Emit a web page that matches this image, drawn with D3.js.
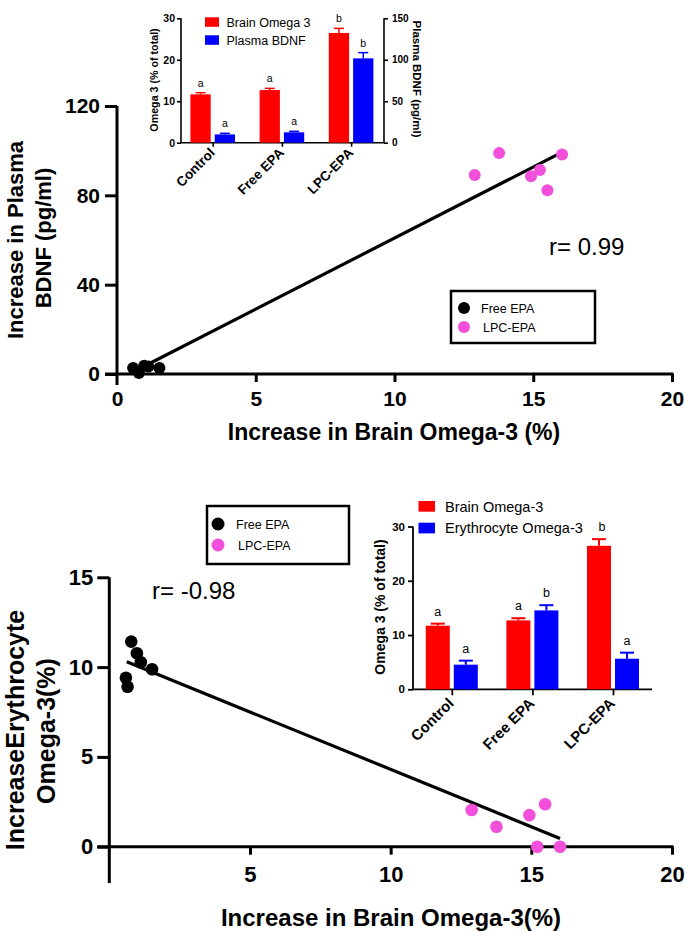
<!DOCTYPE html>
<html><head><meta charset="utf-8">
<script src="https://cdn.jsdelivr.net/npm/d3@7"></script>
<style>
html,body{margin:0;padding:0;background:#fff;}
svg{display:block;font-family:"Liberation Sans",Arial,Helvetica,sans-serif;}
</style></head>
<body>
<svg id="c" width="685" height="932"></svg>
<script>
// ---------- DATA ----------
// Top scatter: Brain omega-3 increase vs plasma BDNF increase
const topFreeX = [0.58, 0.79, 0.98, 1.13, 1.53];
const topFreeY = [2.7, 0.5, 3.7, 3.4, 2.7];
const topLpcX = [12.89, 13.77, 14.92, 15.24, 15.51, 16.04];
const topLpcY = [89.1, 98.9, 88.5, 91.3, 82.3, 98.3];
const topFitX = [1.19, 15.85];
const topFitY = [4.8, 98.1];
const topXTicks = [0, 5, 10, 15, 20];
const topYTicks = [0, 40, 80, 120];
const topR = "r= 0.99";

// Bottom scatter: Brain omega-3 increase vs erythrocyte omega-3 increase
const botFreeX = [0.78, 0.98, 1.12, 1.52, 0.59, 0.65];
const botFreeY = [11.42, 10.77, 10.27, 9.88, 9.41, 8.91];
const botLpcX = [12.88, 13.76, 14.93, 15.49, 15.21, 16.02];
const botLpcY = [2.04, 1.11, 1.76, 2.36, 0.0, 0.0];
const botFitX = [0.62, 16.02];
const botFitY = [10.30, 0.46];
const botXTicks = [5, 10, 15, 20];
const botYTicks = [0, 5, 10, 15];
const botR = "r= -0.98";

// Insets
const groups = ["Control", "Free EPA", "LPC-EPA"];
const in1Brain = [11.66, 12.7, 26.47];
const in1BrainErr = [0.4, 0.4, 1.1];
const in1BrainLetters = ["a", "a", "b"];
const in1Bdnf = [10.0, 12.5, 101.7];
const in1BdnfErr = [1.3, 1.2, 6.9];
const in1BdnfLetters = ["a", "a", "b"];
const in1LeftTicks = [0, 10, 20, 30];
const in1RightTicks = [0, 50, 100, 150];

const in2Brain = [11.72, 12.7, 26.44];
const in2BrainErr = [0.38, 0.4, 1.23];
const in2BrainLetters = ["a", "a", "b"];
const in2Ery = [4.54, 14.54, 5.64];
const in2EryErr = [0.74, 0.96, 1.11];
const in2EryLetters = ["a", "b", "a"];
const in2Ticks = [0, 10, 20, 30];

const seriesNames = ["Free EPA", "LPC-EPA"];

// ---------- STYLE ----------
const RED = "#ff0000", BLUE = "#0000ff", PINK = "#f250da", BLACK = "#000";
const svg = d3.select("#c");

function axisStyle(g, fs) {
  g.selectAll("path.domain").remove();
  g.selectAll("line").attr("stroke", "#000").attr("stroke-width", 3);
  g.selectAll("text").attr("font-size", fs).attr("font-weight", "bold").attr("fill", "#000")
    .attr("font-family", "Liberation Sans, Arial, sans-serif");
}

// ---------- TOP SCATTER ----------
{
  const x = d3.scaleLinear().domain([0, 20]).range([117, 672]);
  const y = d3.scaleLinear().domain([0, 120]).range([374, 106]);
  const g = svg.append("g");
  g.append("line").attr("x1", x(0)).attr("x2", x(0)).attr("y1", y(120)).attr("y2", y(0) + 11)
    .attr("stroke", "#000").attr("stroke-width", 3);
  g.append("line").attr("x1", x(0) - 12).attr("x2", x(20) + 1.5).attr("y1", y(0)).attr("y2", y(0))
    .attr("stroke", "#000").attr("stroke-width", 3);
  const ya = g.append("g").attr("transform", `translate(${x(0)},0)`)
    .call(d3.axisLeft(y).tickValues(topYTicks).tickSize(12).tickPadding(5).tickFormat(d3.format("d")));
  axisStyle(ya, 21);
  const xa = g.append("g").attr("transform", `translate(0,${y(0)})`)
    .call(d3.axisBottom(x).tickValues(topXTicks).tickSize(8).tickPadding(9).tickFormat(d3.format("d")));
  axisStyle(xa, 21);
  xa.selectAll(".tick").filter(d => d === 0).select("line").remove();

  g.append("line").attr("x1", x(topFitX[0])).attr("y1", y(topFitY[0]))
    .attr("x2", x(topFitX[1])).attr("y2", y(topFitY[1]))
    .attr("stroke", "#000").attr("stroke-width", 3.2);
  g.selectAll(".pf").data(d3.zip(topFreeX, topFreeY)).join("circle")
    .attr("cx", d => x(d[0])).attr("cy", d => y(d[1])).attr("r", 6).attr("fill", BLACK);
  g.selectAll(".pl").data(d3.zip(topLpcX, topLpcY)).join("circle")
    .attr("cx", d => x(d[0])).attr("cy", d => y(d[1])).attr("r", 6).attr("fill", PINK);

  g.append("text").attr("x", 549).attr("y", 255).attr("font-size", 24).text(topR);

  g.append("text").attr("transform", "translate(23,240) rotate(-90)").attr("text-anchor", "middle")
    .attr("font-size", 22).attr("font-weight", "bold").text("Increase in Plasma");
  g.append("text").attr("transform", "translate(51,238) rotate(-90)").attr("text-anchor", "middle")
    .attr("font-size", 22).attr("font-weight", "bold").text("BDNF (pg/ml)");
  g.append("text").attr("x", 394).attr("y", 440).attr("text-anchor", "middle")
    .attr("font-size", 23).attr("font-weight", "bold").text("Increase in Brain Omega-3 (%)");

  g.append("rect").attr("x", 451).attr("y", 291).attr("width", 144).attr("height", 52)
    .attr("fill", "none").attr("stroke", "#000").attr("stroke-width", 2.5);
  const leg = g.selectAll(".lg").data(seriesNames).join("g")
    .attr("transform", (d, i) => `translate(464,${308 + i * 19})`);
  leg.append("circle").attr("r", 6).attr("fill", (d, i) => i ? PINK : BLACK);
  leg.append("text").attr("x", (d, i) => i ? 19 : 17).attr("y", 4.5).attr("font-size", 12.5).text(d => d);
}

// ---------- TOP INSET ----------
{
  const x0 = d3.scalePoint().domain(groups).range([178.1, 385.7]).padding(0.5);
  const x1 = d3.scaleBand().domain(["a", "b"]).range([-22.3, 22.3]).paddingInner(0.165);
  const yL = d3.scaleLinear().domain([0, 30]).range([142.7, 18.3]);
  const yR = d3.scaleLinear().domain([0, 150]).range([142.7, 18.3]);
  const g = svg.append("g");
  const left = 181, right = 384;
  g.append("line").attr("x1", left).attr("x2", left).attr("y1", yL(30)).attr("y2", yL(0)).attr("stroke", "#000").attr("stroke-width", 1.6);
  g.append("line").attr("x1", right).attr("x2", right).attr("y1", yR(150)).attr("y2", yR(0)).attr("stroke", "#000").attr("stroke-width", 1.6);
  g.append("line").attr("x1", left).attr("x2", right).attr("y1", yL(0)).attr("y2", yL(0)).attr("stroke", "#000").attr("stroke-width", 1.6);
  const la = g.append("g").attr("transform", `translate(${left},0)`)
    .call(d3.axisLeft(yL).tickValues(in1LeftTicks).tickSize(4).tickPadding(2));
  axisStyle(la, 10.5); la.selectAll("line").attr("stroke-width", 1.6);
  const ra = g.append("g").attr("transform", `translate(${right},0)`)
    .call(d3.axisRight(yR).tickValues(in1RightTicks).tickSize(4).tickPadding(4));
  axisStyle(ra, 10); ra.selectAll("line").attr("stroke-width", 1.6);
  const ba = g.append("g").attr("transform", `translate(0,${yL(0)})`)
    .call(d3.axisBottom(x0).tickSize(4).tickFormat(""));
  axisStyle(ba, 10); ba.selectAll("line").attr("stroke-width", 1.6);
  groups.forEach((c, i) => {
    g.append("text").attr("transform", `translate(${x0(c) + 3},${yL(0) + 11}) rotate(-45)`)
      .attr("text-anchor", "end").attr("font-size", 13.5).attr("font-weight", "bold").text(c);
  });
  const bars = [
    {k: "a", vals: in1Brain, err: in1BrainErr, lt: in1BrainLetters, y: yL, col: RED},
    {k: "b", vals: in1Bdnf, err: in1BdnfErr, lt: in1BdnfLetters, y: yR, col: BLUE}
  ];
  bars.forEach(s => {
    groups.forEach((c, i) => {
      const bx = x0(c) + x1(s.k), bw = x1.bandwidth(), cx = bx + bw / 2;
      const top = s.y(s.vals[i] + s.err[i]);
      g.append("line").attr("x1", cx).attr("x2", cx).attr("y1", s.y(s.vals[i])).attr("y2", top).attr("stroke", s.col).attr("stroke-width", 1.5);
      g.append("line").attr("x1", cx - 5).attr("x2", cx + 5).attr("y1", top).attr("y2", top).attr("stroke", s.col).attr("stroke-width", 1.5);
      g.append("rect").attr("x", bx).attr("y", s.y(s.vals[i])).attr("width", bw)
        .attr("height", s.y(0) - s.y(s.vals[i])).attr("fill", s.col);
      g.append("text").attr("x", cx).attr("y", top - 6).attr("text-anchor", "middle")
        .attr("font-size", 10.5).text(s.lt[i]);
    });
  });
  g.append("text").attr("transform", "translate(158,80) rotate(-90)").attr("text-anchor", "middle")
    .attr("font-size", 10.7).attr("font-weight", "bold").text("Omega 3 (% of total)");
  g.append("text").attr("transform", "translate(413,79) rotate(90)").attr("text-anchor", "middle")
    .attr("font-size", 11.5).attr("font-weight", "bold").text("Plasma BDNF (pg/ml)");
  const legNames = ["Brain Omega 3", "Plasma BDNF"];
  legNames.forEach((n, i) => {
    g.append("rect").attr("x", 205).attr("y", 17.3 + i * 18).attr("width", 14).attr("height", 9.5).attr("fill", i ? BLUE : RED);
    g.append("text").attr("x", 226.5).attr("y", 26.5 + i * 18).attr("font-size", 12.5).text(n);
  });
}

// ---------- BOTTOM SCATTER ----------
{
  const x = d3.scaleLinear().domain([0, 20]).range([109.3, 672]);
  const y = d3.scaleLinear().domain([0, 15]).range([846.7, 577.3]);
  const g = svg.append("g");
  g.append("line").attr("x1", x(0)).attr("x2", x(0)).attr("y1", y(15)).attr("y2", 883)
    .attr("stroke", "#000").attr("stroke-width", 3);
  g.append("line").attr("x1", x(0) - 12).attr("x2", x(20) + 1.5).attr("y1", y(0)).attr("y2", y(0))
    .attr("stroke", "#000").attr("stroke-width", 3);
  const ya = g.append("g").attr("transform", `translate(${x(0)},0)`)
    .call(d3.axisLeft(y).tickValues(botYTicks).tickSize(12).tickPadding(4).tickFormat(d3.format("d")));
  axisStyle(ya, 22);
  const xa = g.append("g").attr("transform", `translate(0,${y(0)})`)
    .call(d3.axisBottom(x).tickValues(botXTicks).tickSize(8).tickPadding(12).tickFormat(d3.format("d")));
  axisStyle(xa, 22);

  g.append("line").attr("x1", x(botFitX[0])).attr("y1", y(botFitY[0]))
    .attr("x2", x(botFitX[1])).attr("y2", y(botFitY[1]))
    .attr("stroke", "#000").attr("stroke-width", 3.2);
  g.selectAll(".pf").data(d3.zip(botFreeX, botFreeY)).join("circle")
    .attr("cx", d => x(d[0])).attr("cy", d => y(d[1])).attr("r", 6.3).attr("fill", BLACK);
  g.selectAll(".pl").data(d3.zip(botLpcX, botLpcY)).join("circle")
    .attr("cx", d => x(d[0])).attr("cy", d => y(d[1])).attr("r", 6.3).attr("fill", PINK);

  g.append("text").attr("x", 152).attr("y", 599).attr("font-size", 24).text(botR);

  g.append("text").attr("transform", "translate(24,730) rotate(-90)").attr("text-anchor", "middle")
    .attr("font-size", 25).attr("font-weight", "bold").text("IncreaseErythrocyte");
  g.append("text").attr("transform", "translate(55,731) rotate(-90)").attr("text-anchor", "middle")
    .attr("font-size", 25).attr("font-weight", "bold").text("Omega-3(%)");
  g.append("text").attr("x", 391).attr("y", 926).attr("text-anchor", "middle")
    .attr("font-size", 24).attr("font-weight", "bold").text("Increase in Brain Omega-3(%)");

  g.append("rect").attr("x", 207).attr("y", 506).attr("width", 142).attr("height", 58)
    .attr("fill", "none").attr("stroke", "#000").attr("stroke-width", 2.5);
  const leg = g.selectAll(".lg").data(seriesNames).join("g")
    .attr("transform", (d, i) => `translate(218,${524 + i * 21})`);
  leg.append("circle").attr("r", 6.5).attr("fill", (d, i) => i ? PINK : BLACK);
  leg.append("text").attr("x", (d, i) => i ? 20 : 18).attr("y", 4.5).attr("font-size", 12.5).text(d => d);
}

// ---------- BOTTOM INSET ----------
{
  const left = 413, right = 652;
  const x0 = d3.scalePoint().domain(groups).range([411.5, 653.3]).padding(0.5);
  const x1 = d3.scaleBand().domain(["a", "b"]).range([-26, 26]).paddingInner(0.143);
  const y = d3.scaleLinear().domain([0, 30]).range([689.3, 526.5]);
  const g = svg.append("g");
  g.append("line").attr("x1", left).attr("x2", left).attr("y1", y(30)).attr("y2", y(0)).attr("stroke", "#000").attr("stroke-width", 1.8);
  g.append("line").attr("x1", left).attr("x2", right).attr("y1", y(0)).attr("y2", y(0)).attr("stroke", "#000").attr("stroke-width", 1.8);
  const la = g.append("g").attr("transform", `translate(${left},0)`)
    .call(d3.axisLeft(y).tickValues(in2Ticks).tickSize(5).tickPadding(3));
  axisStyle(la, 11.5); la.selectAll("line").attr("stroke-width", 1.8);
  const ba = g.append("g").attr("transform", `translate(0,${y(0)})`)
    .call(d3.axisBottom(x0).tickSize(6).tickFormat(""));
  axisStyle(ba, 10); ba.selectAll("line").attr("stroke-width", 1.8);
  groups.forEach((c) => {
    g.append("text").attr("transform", `translate(${x0(c) + 3},${y(0) + 15}) rotate(-45)`)
      .attr("text-anchor", "end").attr("font-size", 15).attr("font-weight", "bold").text(c);
  });
  const bars = [
    {k: "a", vals: in2Brain, err: in2BrainErr, lt: in2BrainLetters, col: RED},
    {k: "b", vals: in2Ery, err: in2EryErr, lt: in2EryLetters, col: BLUE}
  ];
  bars.forEach(s => {
    groups.forEach((c, i) => {
      const bx = x0(c) + x1(s.k), bw = x1.bandwidth(), cx = bx + bw / 2;
      const top = y(s.vals[i] + s.err[i]);
      g.append("line").attr("x1", cx).attr("x2", cx).attr("y1", y(s.vals[i])).attr("y2", top).attr("stroke", s.col).attr("stroke-width", 2);
      g.append("line").attr("x1", cx - 7).attr("x2", cx + 7).attr("y1", top).attr("y2", top).attr("stroke", s.col).attr("stroke-width", 2);
      g.append("rect").attr("x", bx).attr("y", y(s.vals[i])).attr("width", bw)
        .attr("height", y(0) - y(s.vals[i])).attr("fill", s.col);
      g.append("text").attr("x", cx + (i === 2 && s.k === "a" ? 3 : 0)).attr("y", top - 8).attr("text-anchor", "middle")
        .attr("font-size", 12.5).text(s.lt[i]);
    });
  });
  g.append("text").attr("transform", "translate(385,607) rotate(-90)").attr("text-anchor", "middle")
    .attr("font-size", 14).attr("font-weight", "bold").text("Omega 3 (% of total)");
  const legNames = ["Brain Omega-3", "Erythrocyte Omega-3"];
  legNames.forEach((n, i) => {
    g.append("rect").attr("x", 418.5).attr("y", 501 + i * 21.7).attr("width", 16.5).attr("height", 10.7).attr("fill", i ? BLUE : RED);
    g.append("text").attr("x", 445).attr("y", 511.5 + i * 21.7).attr("font-size", 14.5).text(n);
  });
}
</script>
</body></html>
